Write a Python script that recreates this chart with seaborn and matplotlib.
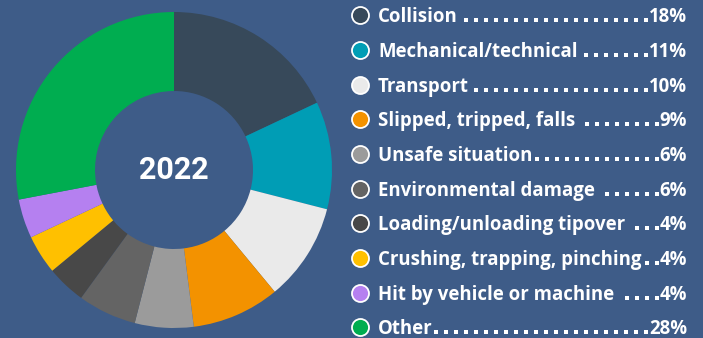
import matplotlib
matplotlib.use("Agg")
import matplotlib.pyplot as plt
import seaborn as sns

# Incident categories for 2022 and their share (%)
categories = [
    "Collision",
    "Mechanical/technical",
    "Transport",
    "Slipped, tripped, falls",
    "Unsafe situation",
    "Environmental damage",
    "Loading/unloading tipover",
    "Crushing, trapping, pinching",
    "Hit by vehicle or machine",
    "Other",
]
shares = [18, 11, 10, 9, 6, 6, 4, 4, 4, 28]
colors = [
    "#37495A", "#009DB5", "#EAEAEA", "#F39200", "#9B9B9B",
    "#646464", "#484848", "#FFC000", "#B580F0", "#00AD50",
]
year_label = "2022"

BG = "#3E5C88"
W, H = 703, 338
DPI = 100

sns.set_theme(style="white")
plt.rcParams["font.family"] = ["Open Sans", "DejaVu Sans"]

fig = plt.figure(figsize=(W / DPI, H / DPI), dpi=DPI, facecolor=BG)

# Donut: centre (174, 170) px, outer radius 158 px
cx, cy, r = 174, 170, 158
ax = fig.add_axes([(cx - r) / W, (H - cy - r) / H, 2 * r / W, 2 * r / H])
ax.set_facecolor(BG)
ax.pie(
    shares,
    colors=colors,
    startangle=90,
    counterclock=False,
    radius=1.0,
    wedgeprops=dict(width=0.5, linewidth=0),
)
ax.set_xlim(-1, 1)
ax.set_ylim(-1, 1)
ax.set_aspect("equal")
ax.axis("off")
ax.text(0, 0, year_label, ha="center", va="center", color="white",
        fontsize=22, fontweight="bold", family=["Roboto", "DejaVu Sans"])

# Legend drawn in a pixel-space overlay
lax = fig.add_axes([0, 0, 1, 1])
lax.set_xlim(0, W)
lax.set_ylim(H, 0)
lax.axis("off")

row_y = [15, 50, 85, 119, 154, 189, 223, 258, 293, 327]
marker_x = 360
text_x = 378
pct_right = 687
dot_step = 10.0

fig.canvas.draw()
renderer = fig.canvas.get_renderer()
inv = lax.transData.inverted()

for cat, val, col, y in zip(categories, shares, colors, row_y):
    lax.scatter([marker_x], [y], s=150, color=col, edgecolor="white",
                linewidth=1.3, zorder=3)
    base = y + 6.6
    t = lax.text(text_x, base, cat, ha="left", va="baseline", color="white",
                 fontsize=13.4, fontweight="bold")
    p = lax.text(pct_right, base, f"{val}%", ha="right", va="baseline",
                 color="white", fontsize=13.4, fontweight="bold")
    tb = t.get_window_extent(renderer)
    pb = p.get_window_extent(renderer)
    t_end = inv.transform((tb.x1, 0))[0]
    p_start = inv.transform((pb.x0, 0))[0]
    xs = []
    x = p_start - 3.0
    while x > t_end + 2.5:
        xs.append(x)
        x -= dot_step
    lax.scatter(xs, [base - 1.7] * len(xs), s=8, marker="s",
                color="white", linewidth=0, zorder=3)

fig.savefig("out.png", dpi=DPI, facecolor=BG)
